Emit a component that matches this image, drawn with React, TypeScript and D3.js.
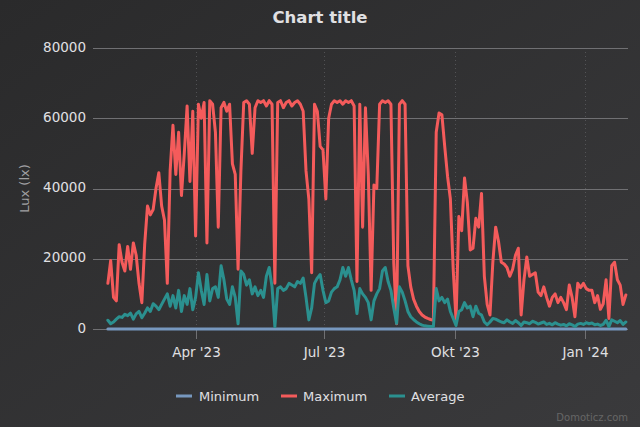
import React from 'react';
import * as d3 from 'd3';

const W = 640;
const H = 427;

const chartTitle = 'Chart title';
const yAxisTitle = 'Lux (lx)';
const credit = 'Domoticz.com';
const seriesNames = ['Minimum', 'Maximum', 'Average'];
const seriesColors = ['#7798BF', '#f45b5b', '#2b908f'];

const yTicks = [0, 20000, 40000, 60000, 80000];
const xTickDates = ['2023-04-01', '2023-07-01', '2023-10-01', '2024-01-01'];
const xTickLabels = ["Apr '23", "Jul '23", "Okt '23", "Jan '24"];
const xDomain = ['2023-01-18T12:00:00Z', '2024-01-31T12:00:00Z'];

// daily samples taken every 2nd day, starting on this date
const firstDay = '2023-01-29';
const stepDays = 2;

const maximum = [
  13000, 19500, 9000, 8000, 24000, 19000, 16500, 23500, 17000, 24500,
  21000, 13000, 7500, 24000, 35000, 32500, 34000, 40000, 44500, 35000,
  31000, 13000, 45000, 58000, 44000, 56000, 38000, 50000, 63500, 42000,
  62000, 26500, 64000, 60000, 64500, 24500, 65000, 64000, 56000, 29000,
  63000, 64500, 62000, 64000, 47000, 44000, 17000, 45000, 64500, 65000,
  64000, 50000, 63000, 65000, 64500, 65000, 63500, 65000, 64000, 13000,
  64500, 65000, 63000, 64500, 65000, 63500, 64500, 65000, 64000, 62000,
  45000, 37000, 16000, 64000, 62000, 52000, 51000, 37000, 60000, 64000,
  65000, 64500, 65000, 64000, 65000, 64500, 65000, 63500, 13500, 64000,
  29000, 63000, 44000, 11000, 41000, 40000, 64000, 65000, 64500, 65000,
  64000, 18800, 1500, 64000, 65000, 64000, 18000, 12000, 8500, 6500,
  5000, 4000, 3400, 3000, 2700, 2500, 56000, 61500, 61000, 52000,
  43500, 37000, 17000, 2600, 32000, 28000, 43000, 36000, 22500, 23000,
  31500, 29000, 38600, 15000, 7000, 4000, 19000, 29000, 25000, 19000,
  18500, 17500, 15000, 17000, 21000, 23000, 4000, 14000, 20500, 15000,
  15500, 16000, 10500, 9500, 12000, 9000, 6500, 9000, 10000, 7500,
  9000, 7500, 5500, 12500, 9000, 3500, 13000, 11800, 13000, 11500,
  11000, 11000, 7500, 9500, 5600, 7200, 14000, 3000, 18000, 19000,
  14000, 12500, 7000, 9700,
];

const average = [
  2500, 1500, 2000, 2800, 3500, 3300, 4200, 3800, 4500, 2800,
  4300, 5000, 3200, 4500, 6000, 5000, 7200, 6500, 5500, 7000,
  8500, 10000, 6500, 9500, 6000, 11000, 5000, 9500, 7000, 11500,
  5500, 9000, 16000, 11000, 7000, 15500, 8000, 11500, 12000, 9000,
  18000, 14000, 8500, 7000, 12000, 9000, 1500, 16500, 15500, 12500,
  14000, 10000, 12000, 9500, 11000, 9000, 15000, 17500, 12000, 700,
  11500, 12000, 11000, 11500, 13000, 12500, 12000, 13500, 13000, 14500,
  9000, 2600, 6000, 13000, 14500, 15500, 11000, 7500, 8000, 10500,
  11500, 12000, 14000, 17500, 15000, 17500, 14000, 11000, 4400, 11500,
  10000, 9000, 7500, 2600, 8000, 10000, 11500, 16500, 17500, 13500,
  11000, 6000, 1600, 12000, 10500, 8000, 5000, 3500, 2700, 2000,
  1500, 1100, 900, 800, 700, 700, 11500, 8000, 9000, 7500,
  8500, 5000, 3000, 1000, 5000, 5500, 7500, 6000, 6500, 3500,
  6500, 4500, 4000, 2000, 1200, 2000, 3000, 2800, 2400, 2000,
  1800, 2600, 2000, 1600, 2400, 1800, 1000, 2000, 1800, 1500,
  2200, 1900, 1400, 1700, 2000, 1300, 1600, 1200, 1800, 1400,
  1100, 1300, 900, 1500, 1200, 700, 1400, 1600, 1300, 1800,
  1500, 1700, 1200, 1400, 1000, 1300, 2500, 700, 2600, 2200,
  1800, 2400, 1300, 2000,
];

const minimumDates = [
  '2023-01-29', '2023-03-01', '2023-04-01', '2023-05-01', '2023-06-01', '2023-07-01',
  '2023-08-01', '2023-09-01', '2023-10-01', '2023-11-01', '2023-12-01', '2024-01-01', '2024-01-30',
];
const minimum = [0, 0, 0, 0, 0, 0, 0, 0, 0, 0, 0, 0, 0];

const FONT = '"DejaVu Sans", Verdana, sans-serif';

export default function App() {
  const left = 93;
  const right = 628;
  const top = 48;
  const bottom = 329;

  const x = d3
    .scaleUtc()
    .domain(xDomain.map((d) => new Date(d)))
    .range([left, right]);
  const y = d3.scaleLinear().domain([0, 80000]).range([bottom, top]);

  const t0 = new Date(firstDay + 'T00:00:00Z').getTime();
  const dayMs = 864e5;
  const dateAt = (i: number) => new Date(t0 + i * stepDays * dayMs);

  type P = { d: Date; v: number };
  const maxPts: P[] = maximum.map((v, i) => ({ d: dateAt(i), v }));
  const avgPts: P[] = average.map((v, i) => ({ d: dateAt(i), v }));
  const minPts: P[] = minimum.map((v, i) => ({ d: new Date(minimumDates[i] + 'T00:00:00Z'), v }));

  const line = d3
    .line<P>()
    .x((p) => x(p.d))
    .y((p) => y(p.v))
    .curve(d3.curveLinear);

  const series = [minPts, maxPts, avgPts];

  const legendItems = [
    { sx: 176, tx: 199 },
    { sx: 281, tx: 303 },
    { sx: 389, tx: 411 },
  ];

  return (
    <div style={{ position: 'fixed', left: 0, top: 0, width: W, height: H }}>
      <svg width={W} height={H} style={{ display: 'block' }} fontFamily={FONT}>
        <defs>
          <linearGradient id="bg" x1="0" y1="0" x2="1" y2="1">
            <stop offset="0" stopColor="#2a2a2b" />
            <stop offset="1" stopColor="#3a3a3c" />
          </linearGradient>
        </defs>
        <rect x={0} y={0} width={W} height={H} fill="url(#bg)" />

        <text x={W / 2} y={23} textAnchor="middle" fill="#E0E0E3" fontSize={16.5} fontWeight="bold">
          {chartTitle}
        </text>

        {xTickDates.map((d) => {
          const xx = Math.round(x(new Date(d + 'T00:00:00Z'))) + 0.5;
          return (
            <line key={'vg' + d} x1={xx} x2={xx} y1={top} y2={bottom} stroke="#707073" strokeOpacity={0.55} strokeDasharray="1,3" />
          );
        })}

        {yTicks.map((t) => {
          const yy = Math.round(y(t)) + 0.5;
          return <line key={'hg' + t} x1={left} x2={right} y1={yy} y2={yy} stroke="#707073" strokeWidth={1} />;
        })}

        {yTicks.map((t) => (
          <text key={'yl' + t} x={86} y={y(t) + 3.5} textAnchor="end" fill="#E0E0E3" fontSize={13.5}>
            {t}
          </text>
        ))}

        <text
          transform={`translate(29,${(top + bottom) / 2}) rotate(-90)`}
          textAnchor="middle"
          fill="#A0A0A3"
          fontSize={13}
        >
          {yAxisTitle}
        </text>

        {xTickDates.map((d, i) => {
          const xx = Math.round(x(new Date(d + 'T00:00:00Z'))) + 0.5;
          return (
            <g key={'xt' + d}>
              <line x1={xx} x2={xx} y1={bottom} y2={bottom + 10} stroke="#707073" />
              <text x={xx} y={357} textAnchor="middle" fill="#E0E0E3" fontSize={13.5}>
                {xTickLabels[i]}
              </text>
            </g>
          );
        })}

        {series.map((pts, si) => (
          <path
            key={'s' + si}
            d={line(pts) || ''}
            fill="none"
            stroke={seriesColors[si]}
            strokeWidth={3}
            strokeLinejoin="round"
            strokeLinecap="round"
          />
        ))}

        {seriesNames.map((n, i) => (
          <g key={'lg' + n}>
            <line
              x1={legendItems[i].sx}
              x2={legendItems[i].sx + 16}
              y1={396}
              y2={396}
              stroke={seriesColors[i]}
              strokeWidth={3}
            />
            <text x={legendItems[i].tx} y={400.5} fill="#E0E0E3" fontSize={13}>
              {n}
            </text>
          </g>
        ))}

        <text x={628} y={421} textAnchor="end" fill="#666666" fontSize={10}>
          {credit}
        </text>
      </svg>
    </div>
  );
}
